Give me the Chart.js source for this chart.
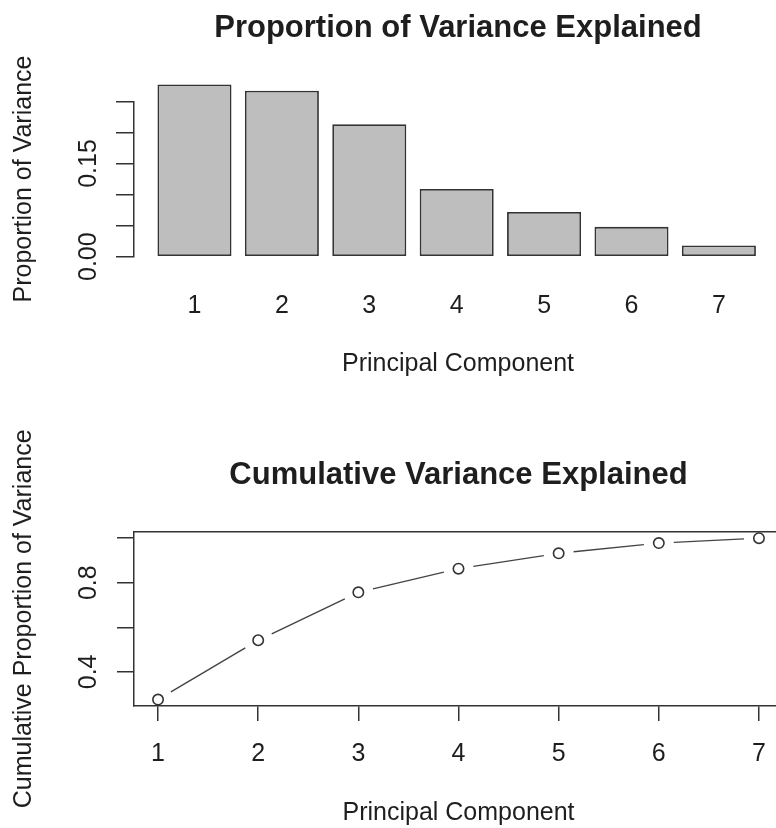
<!DOCTYPE html>
<html>
<head>
<meta charset="utf-8">
<script src="https://cdn.jsdelivr.net/npm/chart.js@4/dist/chart.umd.min.js"></script>
<style>
  html, body { margin: 0; padding: 0; background: #ffffff; overflow: hidden; width: 776px; height: 828px; }
  #wrap { position: relative; width: 776px; height: 828px; overflow: hidden; }
  canvas { position: absolute; left: 0; }
  #c1 { top: 0; }
  #c2 { top: 400px; }
</style>
</head>
<body>
<div id="wrap">
  <canvas id="c1" width="800" height="400"></canvas>
  <canvas id="c2" width="800" height="428"></canvas>
</div>
<script>
// ---- data ----
const components = [1, 2, 3, 4, 5, 6, 7];
const componentLabels = ['1', '2', '3', '4', '5', '6', '7'];
const pveValues = [0.277, 0.267, 0.213, 0.109, 0.072, 0.048, 0.018];
const cumValues = [0.276, 0.542, 0.757, 0.863, 0.932, 0.978, 1.000];
const pveTicks = [0, 0.05, 0.10, 0.15, 0.20, 0.25];
const pveTickLabels = ['0.00', '', '', '0.15', '', ''];
const cumTicks = [0.4, 0.6, 0.8, 1.0];
const cumTickLabels = ['0.4', '', '0.8', ''];

const titleTop = 'Proportion of Variance Explained';
const titleBottom = 'Cumulative Variance Explained';
const xTitle = 'Principal Component';
const yTitleTop = 'Proportion of Variance';
const yTitleBottom = 'Cumulative Proportion of Variance';

// ---- style ----
const FONT = "'Liberation Sans', Arial, Helvetica, sans-serif";
const INK = '#1e1e1e';
const AXIS = '#333333';
const GAP = 15; // gap (px) between line ends and point centres, like R type = "b"
Chart.defaults.font.family = FONT;
Chart.defaults.font.size = 25;
Chart.defaults.color = INK;

const pts = (ys) => components.map((x, i) => ({ x: x, y: ys[i] }));
const setTicks = (vals) => (scale) => { scale.ticks = vals.map(v => ({ value: v })); };

// ---- top: bar chart ----
new Chart(document.getElementById('c1'), {
  type: 'bar',
  data: {
    datasets: [{
      data: pts(pveValues),
      backgroundColor: '#bebebe',
      borderColor: AXIS,
      borderWidth: 1.8,
      borderSkipped: false,
      categoryPercentage: 1,
      barPercentage: 0.847,
      clip: false
    }]
  },
  options: {
    responsive: false,
    animation: false,
    events: [],
    layout: { padding: { left: 0, right: 18, top: 0, bottom: 0 } },
    plugins: {
      legend: { display: false },
      tooltip: { enabled: false },
      title: {
        display: true, text: titleTop, fullSize: false, color: INK,
        font: { size: 31, weight: 'bold', family: FONT },
        padding: { top: 9.6, bottom: 54.5 }
      }
    },
    scales: {
      x: {
        type: 'linear', offset: false, min: 0.308, max: 7.722,
        afterBuildTicks: setTicks(components),
        afterFit: (s) => { s.height = 143.3; },
        grid: { display: false, drawTicks: false, offset: false },
        border: { display: false },
        ticks: { padding: 34.5, maxRotation: 0, autoSkip: false, color: INK,
                 callback: (v, i) => componentLabels[i] },
        title: { display: true, text: xTitle, color: INK, padding: { top: 0, bottom: 20.4 } }
      },
      y: {
        type: 'linear', min: 0, max: 0.25,
        afterBuildTicks: setTicks(pveTicks),
        afterFit: (s) => { s.width = 134; },
        grid: { drawOnChartArea: false, drawTicks: true, tickLength: 18, color: AXIS, lineWidth: 1.5 },
        border: { display: true, color: AXIS, width: 1.5 },
        ticks: { minRotation: 90, maxRotation: 90, crossAlign: 'center', padding: 2.5,
                 autoSkip: false, color: INK, callback: (v, i) => pveTickLabels[i] },
        title: { display: true, text: yTitleTop, color: INK, padding: { top: 9.2, bottom: 0 } }
      }
    }
  }
});

// ---- bottom: cumulative line chart (type "b": points, line broken around them) ----
new Chart(document.getElementById('c2'), {
  type: 'line',
  data: {
    datasets: [
      { // open circles
        data: pts(cumValues), showLine: false,
        pointRadius: 5.2, pointBorderWidth: 1.6,
        pointBorderColor: AXIS, pointBackgroundColor: '#ffffff'
      },
      { // connecting line, each segment stopped GAP px short of both points
        data: pts(cumValues), showLine: true, fill: false,
        borderColor: '#444444', borderWidth: 1.4, pointRadius: 0, tension: 0,
        segment: {
          borderDash: (c) => {
            const d = Math.hypot(c.p1.x - c.p0.x, c.p1.y - c.p0.y);
            return [0, GAP, Math.max(d - 2 * GAP, 0), d + 1000];
          }
        }
      }
    ]
  },
  options: {
    responsive: false,
    animation: false,
    events: [],
    layout: { padding: { left: 0, right: 17, top: 0, bottom: 0 } },
    plugins: {
      legend: { display: false },
      tooltip: { enabled: false },
      title: {
        display: true, text: titleBottom, fullSize: false, color: INK,
        font: { size: 31, weight: 'bold', family: FONT },
        padding: { top: 57, bottom: 37.5 }
      }
    },
    scales: {
      x: {
        type: 'linear', min: 0.76, max: 7.24,
        afterBuildTicks: setTicks(components),
        afterFit: (s) => { s.height = 122; },
        grid: { drawOnChartArea: false, drawTicks: true, tickLength: 15, color: AXIS, lineWidth: 1.5 },
        border: { display: true, color: AXIS, width: 1.5 },
        ticks: { padding: 18.5, maxRotation: 0, autoSkip: false, color: INK,
                 callback: (v, i) => componentLabels[i] },
        title: { display: true, text: xTitle, color: INK, padding: { top: 0, bottom: 0.3 } }
      },
      x2: {
        type: 'linear', position: 'top', min: 0.76, max: 7.24,
        afterFit: (s) => { s.height = 0; },
        grid: { display: false, drawTicks: false },
        border: { display: true, color: AXIS, width: 1.5 },
        ticks: { display: false }
      },
      y: {
        type: 'linear', min: 0.247, max: 1.029,
        afterBuildTicks: setTicks(cumTicks),
        afterFit: (s) => { s.width = 134; },
        grid: { drawOnChartArea: false, drawTicks: true, tickLength: 17, color: AXIS, lineWidth: 1.5 },
        border: { display: true, color: AXIS, width: 1.5 },
        ticks: { minRotation: 90, maxRotation: 90, crossAlign: 'center', padding: 10.4,
                 autoSkip: false, color: INK, callback: (v, i) => cumTickLabels[i] },
        title: { display: true, text: yTitleBottom, color: INK, padding: { top: 9.2, bottom: 0 } }
      }
    }
  }
});
</script>
</body>
</html>
